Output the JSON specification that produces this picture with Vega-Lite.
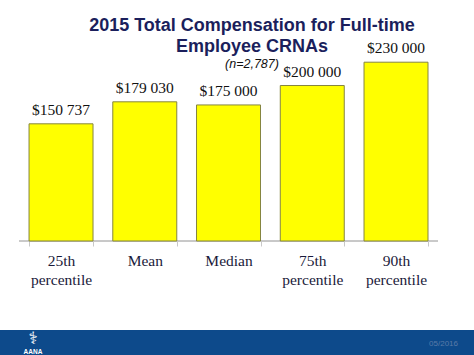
{
  "$schema": "https://vega.github.io/schema/vega-lite/v6.json",
  "padding": 0,
  "spacing": 42,
  "background": "white",
  "config": {
    "view": {"stroke": null},
    "locale": {"number": {"decimal": ".", "thousands": " ", "grouping": [3], "currency": ["$", ""]}}
  },
  "vconcat": [
    {
      "width": 474,
      "height": 241,
      "title": {
        "text": ["2015 Total Compensation for Full-time", "Employee CRNAs"],
        "subtitle": "(n=2,787)",
        "anchor": "middle",
        "offset": -70,
        "dx": 15,
        "font": "Liberation Sans",
        "fontSize": 18,
        "fontWeight": "bold",
        "color": "#1b1f5c",
        "lineHeight": 21,
        "subtitleFont": "Liberation Sans",
        "subtitleFontStyle": "italic",
        "subtitleFontSize": 12.5,
        "subtitleColor": "#111111",
        "subtitlePadding": 2
      },
      "data": {
        "values": [
          {"category": "25th percentile", "value": 150737},
          {"category": "Mean", "value": 179030},
          {"category": "Median", "value": 175000},
          {"category": "75th percentile", "value": 200000},
          {"category": "90th percentile", "value": 230000}
        ]
      },
      "encoding": {
        "x": {
          "field": "category",
          "type": "nominal",
          "sort": null,
          "scale": {
            "domain": ["25th percentile", "Mean", "Median", "75th percentile", "90th percentile"],
            "paddingInner": 0.236, "paddingOuter": 0.448, "align": 0.387
          },
          "axis": {
            "title": null,
            "labelAngle": 0,
            "labelExpr": "split(datum.label, ' ')",
            "labelFont": "Liberation Serif",
            "labelFontSize": 15.5,
            "labelColor": "#1a1a3a",
            "labelLineHeight": 19,
            "labelPadding": 7,
            "tickBand": "extent",
            "tickColor": "#c8c8c8",
            "tickSize": 5,
            "domain": false
          }
        },
        "y": {
          "field": "value",
          "type": "quantitative",
          "scale": {"domain": [0, 310000]},
          "axis": null
        }
      },
      "layer": [
        {
          "mark": {"type": "rule", "color": "#c8c8c8", "strokeWidth": 1},
          "encoding": {
            "x": {"datum": "25th percentile", "bandPosition": -0.156},
            "x2": {"datum": "90th percentile"},
            "y": {"datum": 0}
          }
        },
        {
          "mark": {"type": "rule", "color": "#c8c8c8", "strokeWidth": 1},
          "encoding": {
            "x": {"datum": "90th percentile", "bandPosition": 1.156},
            "x2": {"datum": "25th percentile"},
            "y": {"datum": 0}
          }
        },
        {"mark": {"type": "bar", "fill": "#ffff00", "stroke": "#858540", "strokeWidth": 1}},
        {
          "mark": {"type": "text", "baseline": "bottom", "dy": -6, "font": "Liberation Serif", "fontSize": 15.5, "color": "#111111"},
          "encoding": {"text": {"field": "value", "type": "quantitative", "format": "$,.0f"}}
        }
      ]
    },
    {
      "width": 474,
      "height": 27,
      "view": {"fill": "#0d4a8b", "stroke": null},
      "data": {"values": [{"date": "05/2016", "org": "AANA", "icon": "⚕"}]},
      "layer": [
        {
          "mark": {"type": "text", "align": "right", "fontSize": 8, "font": "Liberation Sans", "color": "#5a7aa8"},
          "encoding": {"text": {"field": "date"}, "x": {"value": 458}, "y": {"value": 14}}
        },
        {
          "mark": {"type": "text", "align": "center", "fontSize": 6.5, "fontWeight": "bold", "font": "Liberation Sans", "color": "#ffffff"},
          "encoding": {"text": {"field": "org"}, "x": {"value": 33}, "y": {"value": 22}}
        },
        {
          "mark": {"type": "text", "align": "center", "fontSize": 17, "fontWeight": "bold", "font": "DejaVu Sans", "color": "#ffffff"},
          "encoding": {"text": {"field": "icon"}, "x": {"value": 33}, "y": {"value": 9}}
        }
      ]
    }
  ]
}
